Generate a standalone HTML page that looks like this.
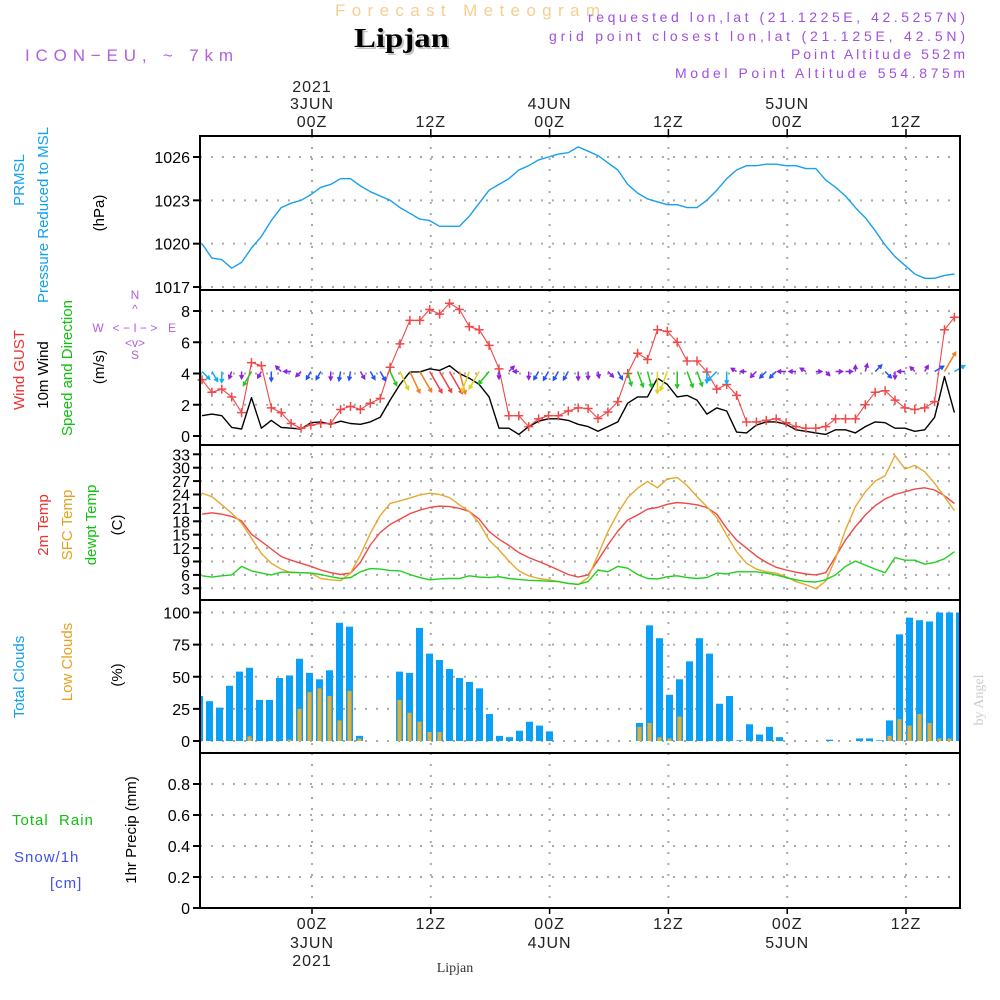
<!DOCTYPE html>
<html><head><meta charset="utf-8"><style>
html,body{margin:0;padding:0;background:#fff;}
svg{display:block;font-family:"Liberation Sans",sans-serif;}
</style></head><body>
<svg id="chart" width="1000" height="1000" viewBox="0 0 1000 1000">
<g id="texts">
<text x="335" y="16" font-size="17" fill="#f5cf90" textLength="265" lengthAdjust="spacing">Forecast Meteogram</text>
<text x="356" y="49" font-size="27" font-weight="bold" font-family="'Liberation Serif',serif" fill="#555" opacity="0.35" textLength="95" lengthAdjust="spacingAndGlyphs">Lipjan</text>
<text x="354" y="47" font-size="27" font-weight="bold" font-family="'Liberation Serif',serif" fill="#000" textLength="95" lengthAdjust="spacingAndGlyphs">Lipjan</text>
<text x="25" y="61" font-size="17" fill="#b060e0" textLength="208" lengthAdjust="spacing">ICON−EU, ~ 7km</text>
<g font-size="14" fill="#a050e0">
<text x="588" y="22" textLength="377" lengthAdjust="spacing">requested lon,lat (21.1225E, 42.5257N)</text>
<text x="549" y="41" textLength="416" lengthAdjust="spacing">grid point closest lon,lat (21.125E, 42.5N)</text>
<text x="791" y="59" textLength="174" lengthAdjust="spacing">Point Altitude 552m</text>
<text x="675" y="78" textLength="290" lengthAdjust="spacing">Model Point Altitude 554.875m</text>
</g>
<text x="455" y="972" font-size="14" font-family="'Liberation Serif',serif" fill="#333" text-anchor="middle">Lipjan</text>
<text transform="translate(983,700) rotate(-90)" font-size="14" font-family="'Liberation Serif',serif" fill="#ccc" text-anchor="middle">by Angel</text>
</g>
<g id="ylabels" font-size="15">
<text transform="translate(24,180) rotate(-90)" fill="#10a0f0" text-anchor="middle">PRMSL</text>
<text transform="translate(48,215) rotate(-90)" fill="#10a0f0" text-anchor="middle">Pressure Reduced to MSL</text>
<text transform="translate(104,213) rotate(-90)" fill="#000" text-anchor="middle">(hPa)</text>
<text transform="translate(24,370) rotate(-90)" fill="#f03030" text-anchor="middle">Wind GUST</text>
<text transform="translate(48,375) rotate(-90)" fill="#000" text-anchor="middle">10m Wind</text>
<text transform="translate(72,368) rotate(-90)" fill="#10c010" text-anchor="middle">Speed and Direction</text>
<text transform="translate(104,367) rotate(-90)" fill="#000" text-anchor="middle">(m/s)</text>
<g fill="#b060e0" font-size="12" text-anchor="middle">
<text x="98" y="332">W</text><text x="135" y="299">N</text><text x="135" y="359">S</text><text x="172" y="332">E</text>
<text x="135" y="332">&lt; − I − &gt;</text><text x="135" y="313">^</text><text x="135" y="347">&lt;v&gt;</text>
</g>
<text transform="translate(48,525) rotate(-90)" fill="#f03030" text-anchor="middle">2m Temp</text>
<text transform="translate(72,525) rotate(-90)" fill="#e8a020" text-anchor="middle">SFC Temp</text>
<text transform="translate(96,525) rotate(-90)" fill="#10c010" text-anchor="middle">dewpt Temp</text>
<text transform="translate(122,525) rotate(-90)" fill="#000" text-anchor="middle">(C)</text>
<text transform="translate(24,677) rotate(-90)" fill="#10a0f0" text-anchor="middle">Total Clouds</text>
<text transform="translate(72,662) rotate(-90)" fill="#e8a020" text-anchor="middle">Low Clouds</text>
<text transform="translate(122,675) rotate(-90)" fill="#000" text-anchor="middle">(%)</text>
<text x="12" y="825" fill="#10c010" letter-spacing="1">Total&#160;&#160;Rain</text>
<text x="14" y="862" fill="#4050f0" letter-spacing="1">Snow/1h</text>
<text x="50" y="888" fill="#4050f0" letter-spacing="1">[cm]</text>
<text transform="translate(136,830) rotate(-90)" fill="#000" text-anchor="middle">1hr Precip (mm)</text>
</g>
<g id="grid"></g><g id="marks"></g><g id="frames"></g><g id="axes"></g>
</svg>
<script>
// ---- data (hourly, 77 steps from ~13Z 2 JUN) ----
const pressure = [1020.0,1019.0,1018.9,1018.3,1018.7,1019.7,1020.5,1021.6,1022.5,1022.8,1023.0,1023.4,1023.9,1024.1,1024.5,1024.5,1024.0,1023.6,1023.3,1023.0,1022.5,1022.1,1021.7,1021.6,1021.2,1021.2,1021.2,1021.9,1022.8,1023.7,1024.1,1024.5,1025.1,1025.4,1025.8,1026.0,1026.2,1026.3,1026.7,1026.4,1026.1,1025.6,1025.1,1024.1,1023.5,1023.1,1022.9,1022.7,1022.7,1022.5,1022.5,1023.0,1023.7,1024.5,1025.1,1025.4,1025.4,1025.5,1025.5,1025.4,1025.4,1025.2,1025.2,1024.4,1023.9,1023.3,1022.5,1021.8,1020.9,1019.9,1019.1,1018.5,1017.9,1017.6,1017.6,1017.8,1017.9];
const gust = [3.6,2.8,3.0,2.5,1.5,4.7,4.5,1.8,1.5,0.8,0.5,0.7,0.8,0.8,1.7,1.9,1.7,2.1,2.4,4.4,5.9,7.4,7.4,8.1,7.8,8.5,8.1,7.0,6.8,5.8,4.3,1.3,1.3,0.6,1.1,1.3,1.3,1.6,1.8,1.76,1.12,1.54,2.2,4.0,5.3,4.9,6.8,6.7,6.0,4.8,4.8,4.1,3.0,3.3,2.6,0.9,0.9,1.0,1.1,0.85,0.6,0.5,0.5,0.6,1.1,1.1,1.1,2.0,2.8,2.9,2.3,1.8,1.7,1.8,2.2,6.8,7.6];
const wind = [1.3,1.4,1.3,0.55,0.45,2.45,0.5,1.0,0.55,0.5,0.45,0.85,0.9,0.75,0.95,0.8,0.75,0.9,1.2,2.3,3.3,4.1,4.1,4.3,4.2,4.5,4.0,3.7,3.3,2.5,0.5,0.5,0.1,0.6,0.95,1.1,1.1,1.0,0.75,0.6,0.3,0.6,0.9,2.1,2.5,2.5,3.7,3.3,2.5,2.6,2.3,1.4,1.8,1.6,0.25,0.2,0.7,0.9,0.9,0.75,0.4,0.3,0.2,0.1,0.4,0.4,0.2,0.6,0.9,0.85,0.5,0.5,0.3,0.4,1.2,3.8,1.5];
const windDir = [135,150,180,200,180,210,210,180,315,270,225,210,210,180,190,190,150,150,150,155,155,155,150,150,150,150,165,200,210,220,180,45,270,180,210,210,210,210,180,180,170,135,150,165,160,165,180,200,180,160,160,180,225,180,300,270,225,225,225,270,270,300,90,135,90,90,0,15,45,135,180,270,315,30,60,30,60];
const temp2m = [19.6,19.9,19.6,19.1,18.1,15.1,13.5,11.8,10.1,9.3,8.6,7.9,7.1,6.5,6.1,6.4,8.8,12.7,15.5,17.3,18.5,19.7,20.5,21.1,21.4,21.3,20.9,20.2,18.5,15.7,14.0,12.6,11.0,9.9,9.0,8.1,7.1,6.1,5.5,6.0,9.3,12.7,15.8,18.3,19.4,20.7,21.1,21.8,22.2,22.0,21.7,21.1,19.6,16.4,13.8,12.0,10.2,8.8,7.7,7.1,6.6,6.2,6.0,6.5,10.1,13.8,16.8,19.4,21.5,23.0,24.0,24.6,25.2,25.5,25.0,23.7,22.0];
const sfcTemp = [24.3,23.5,21.7,19.8,17.6,14.2,10.8,8.6,7.3,6.5,6.5,6.4,5.2,4.9,4.7,6.4,10.5,15.3,19.3,22.0,22.6,23.2,23.9,24.3,24.0,23.3,21.7,20.2,17.6,13.8,11.6,9.1,6.9,5.8,5.2,4.9,4.5,4.1,3.8,5.4,10.5,15.7,19.8,23.3,25.4,26.9,25.5,27.5,27.8,26.0,23.5,21.3,18.8,14.9,11.2,8.6,7.3,6.7,6.4,5.6,4.5,3.8,2.9,4.6,9.7,16.1,21.3,24.6,27.0,28.2,32.7,29.7,30.5,29.1,26.5,23.5,20.4];
const dewpt = [5.8,5.5,5.8,6.0,7.9,6.9,6.4,6.0,6.6,6.6,6.5,6.4,6.1,5.6,5.2,5.4,6.7,7.4,7.3,7.0,6.9,6.1,5.4,4.9,5.1,5.2,5.2,5.8,5.5,5.4,5.6,5.2,5.0,4.8,4.7,4.6,4.5,4.1,3.9,4.5,7.1,6.7,7.9,7.5,6.1,5.2,5.1,5.6,5.8,5.4,5.2,5.4,6.4,6.2,6.7,6.7,6.7,6.4,6.0,5.4,4.9,4.5,4.4,4.9,6.0,7.9,9.1,8.2,7.3,6.5,9.9,9.3,9.3,8.4,8.8,9.6,11.2];
const totalClouds = [35,31,26,43,54,57,32,32,49,51,64,53,48,55,92,89,4,0,0,0,54,53,88,68,63,56,49,46,41,21,4,3,8,15,12,7.5,0,0,0,0,0,0,0,0,14,90,80,36,48,62,80,68,29,35,0.5,13,5,11,3,0,0,0,0,1,0,0,2,2,0.5,16,83,96,94,93,100,100,100];
const lowClouds = [0,0,0,0,0,3.6,0,0,0,1,25,38,41,35,16,39,2,0,0,0,32,22,15,7,7,0,0,0,0,0,0,0,0,0,0,0,0,0,0,0,0,0,0,0,11,14,3,2,19,0,0,0,0,0,0,0,0,0,0,0,0,0,0,0,0,0,0,0,0,4,17,12,21,14,2,2,0];
const precip = new Array(77).fill(0);
const timeTickLabels = ["00Z","12Z","00Z","12Z","00Z","12Z"];
const topDateLabels = ["3JUN","","4JUN","","5JUN",""];
const pTicks = [1017,1020,1023,1026];
const wTicks = [0,2,4,6,8];
const tTicks = [3,6,9,12,15,18,21,24,27,30,33];
const cTicks = [0,25,50,75,100];
const rTicks = [0,0.2,0.4,0.6,0.8];

const NS="http://www.w3.org/2000/svg";
function mk(tag, attrs, parent){const e=document.createElementNS(NS,tag);for(const k in attrs)e.setAttribute(k,attrs[k]);parent.appendChild(e);return e;}
const gGrid=document.getElementById('grid'), gMarks=document.getElementById('marks'), gFr=document.getElementById('frames'), gAx=document.getElementById('axes');
const X0=200,X1=960;
const xL = i => 202 + i*9.9;
const xB = i => 203 + i*10;
const xT = k => 312 + k*118.8;
function lin(d0,d1,r0,r1){return v=>r0+(v-d0)*(r1-r0)/(d1-d0);}
const yP=lin(1017,1026,287,157), yW=lin(0,8,436,311), yTm=lin(3,33,588.3,454.3), yC=lin(0,100,741,612.5), yR=lin(0,0.8,908,784);
const panels=[[136,290,yP,pTicks,'pressure'],[290,445,yW,wTicks,'wind'],[445,600,yTm,tTicks,'temp'],[600,753,yC,cTicks,'clouds'],[753,908,yR,rTicks,'precip']];

panels.forEach(([t,b,ys,ticks,nm])=>{
  ticks.forEach(v=>{
    const y=ys(v);
    const gl=mk('line',{x1:X0,x2:X1,y1:y,y2:y,stroke:'#aaa','stroke-width':2,'stroke-dasharray':'2,9'},gGrid);
    
    
    const tk=mk('line',{x1:193,x2:X0,y1:y,y2:y,stroke:'#000','stroke-width':2},gAx);
    
    
    const tl=mk('text',{x:190,y:y+6,'font-size':16,'text-anchor':'end',fill:'#000'},gAx);
    tl.textContent = nm==='precip' ? (v===0?'0':v.toFixed(1)) : String(v);
    
    
  });
  for(let k=0;k<6;k++){
    const vl=mk('line',{x1:xT(k),x2:xT(k),y1:t,y2:b,stroke:'#aaa','stroke-width':2,'stroke-dasharray':'2,9'},gGrid);
    
    
  }
  const fr=mk('rect',{x:X0,y:t,width:X1-X0,height:b-t,fill:'none',stroke:'#000','stroke-width':2},gFr);
  
  
});
for(let k=0;k<6;k++){
  const x=xT(k);
  mk('line',{x1:x,x2:x,y1:129,y2:136,stroke:'#000','stroke-width':1.5},gAx);
  mk('line',{x1:x,x2:x,y1:908,y2:914,stroke:'#000','stroke-width':1.5},gAx);
  const a=mk('text',{x:x,y:127,'font-size':16,'text-anchor':'middle',fill:'#222','letter-spacing':1},gAx);
  a.textContent=timeTickLabels[k];
  
  
  if(topDateLabels[k]){
    const d=mk('text',{x:x,y:109,'font-size':16,'text-anchor':'middle',fill:'#222','letter-spacing':1},gAx);
    d.textContent=topDateLabels[k];
    
    
    const d2=mk('text',{x:x,y:948,'font-size':16,'text-anchor':'middle',fill:'#222','letter-spacing':1},gAx);
    d2.textContent=topDateLabels[k];
    
    
  }
  const bl=mk('text',{x:x,y:929,'font-size':16,'text-anchor':'middle',fill:'#222','letter-spacing':1},gAx);
  bl.textContent=timeTickLabels[k];
  
  
}
const yr=mk('text',{x:xT(0),y:92,'font-size':16,'text-anchor':'middle',fill:'#222','letter-spacing':1},gAx); yr.textContent='2021';


const yr2=mk('text',{x:xT(0),y:966,'font-size':16,'text-anchor':'middle',fill:'#222','letter-spacing':1},gAx); yr2.textContent='2021';



function line(arr,ys,color,name,w){
  const pts=arr.map((v,i)=>xL(i).toFixed(1)+','+ys(v).toFixed(1)).join(' ');
  const p=mk('polyline',{points:pts,fill:'none',stroke:color,'stroke-width':w||1.3,'stroke-linejoin':'round'},gMarks);
  
  
}
totalClouds.forEach((v,i)=>{
  const r=Math.min(xB(i),X1), l=Math.max(xB(i)-7,X0); if(r<=l) return;
  const b=mk('rect',{x:l,y:yC(v),width:r-l,height:yC(0)-yC(v),fill:'#0aa0f5'},gMarks);
  
  
});
lowClouds.forEach((v,i)=>{
  if(v<=0) return;
  const b=mk('rect',{x:xB(i)-5.5,y:yC(v),width:4,height:yC(0)-yC(v),fill:'#e8ae30'},gMarks);
  
  
});
line(pressure,yP,'#18a0f0','pressure-line',1.4);
line(temp2m,yTm,'#f04848','2m-temp-line',1.4);
line(sfcTemp,yTm,'#e8a830','sfc-temp-line',1.4);
line(dewpt,yTm,'#20d020','dewpt-line',1.4);
line(precip,yR,'#000','precip-line',1.2);
line(wind,yW,'#000','wind-speed-line',1.4);
line(gust,yW,'#f04848','wind-gust-line',1.1);
gust.forEach((v,i)=>{
  const x=xL(i),y=yW(v);
  const c=mk('path',{d:`M${x-4.5},${y}H${x+4.5}M${x},${y-4.5}V${y+4.5}`,stroke:'#f04848','stroke-width':1.5},gMarks);
  
  
});
function windColor(s){return s<0.8?'#9020e0':s<1.3?'#2850f8':s<2?'#10b0f0':s<3?'#20c820':s<3.8?'#e0d020':s<4.2?'#f08020':'#f04040';}
windDir.forEach((d,i)=>{
  const s=wind[i], len=5+4.5*s, a=d*Math.PI/180;
  const x0=xL(i), y0=yW(4)-2;
  const x1=x0+len*Math.sin(a), y1=y0-len*Math.cos(a);
  const h=4, a1=a+Math.PI-0.5, a2=a+Math.PI+0.5;
  const dpath=`M${x0},${y0}L${x1},${y1}M${x1+h*Math.sin(a1)},${y1-h*Math.cos(a1)}L${x1},${y1}L${x1+h*Math.sin(a2)},${y1-h*Math.cos(a2)}`;
  const ar=mk('path',{d:dpath,stroke:windColor(s),'stroke-width':1.5,fill:'none'},gMarks);
  
  
});
</script>
</body></html>
